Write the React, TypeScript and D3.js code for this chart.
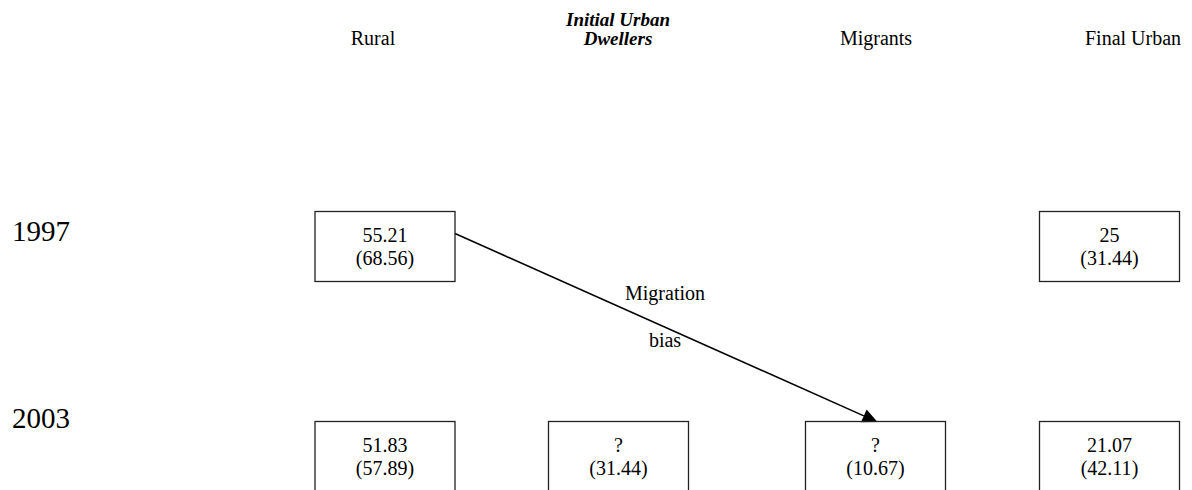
import React from "react";
import * as d3 from "d3";

const columns = ["Rural", "Initial Urban Dwellers", "Migrants", "Final Urban"];
const years = ["1997", "2003"];
const values1997 = ["55.21", null, null, "25"];
const shares1997 = ["68.56", null, null, "31.44"];
const values2003 = ["51.83", "?", "?", "21.07"];
const shares2003 = ["57.89", "31.44", "10.67", "42.11"];
const arrowLabel = ["Migration", "bias"];

const W = 1192;
const H = 490;
const FONT = "'Liberation Serif', 'Times New Roman', serif";

export default function App() {
  const boxX = d3.scaleOrdinal<string, number>().domain(columns).range([385, 618.5, 875.5, 1109.5]);
  const headX = d3.scaleOrdinal<string, number>().domain(columns).range([373, 618, 876, 1133]);
  const rowTop = d3.scaleOrdinal<string, number>().domain(years).range([211.5, 421.5]);
  const yearBase = d3.scaleOrdinal<string, number>().domain(years).range([241, 428]);
  const boxW = 140;
  const boxH = 70;

  const rows = [
    { year: "1997", vals: values1997, shares: shares1997 },
    { year: "2003", vals: values2003, shares: shares2003 },
  ];

  // arrow from Rural 1997 right-middle to Migrants 2003 top
  const x0 = boxX("Rural") + boxW / 2;
  const y0 = rowTop("1997") + 22;
  const x1 = 877.5;
  const y1 = rowTop("2003") + 0.5;
  const ang = Math.atan2(y1 - y0, x1 - x0);
  const L = 15, HW = 7;
  const ux = Math.cos(ang), uy = Math.sin(ang);
  const bx = x1 - L * ux, by = y1 - L * uy;
  const head = d3.line()([
    [x1, y1],
    [bx - HW * uy, by + HW * ux],
    [bx + HW * uy, by - HW * ux],
  ]) + "Z";

  return (
    <svg width={W} height={H} style={{ position: "absolute", left: 0, top: 0, background: "#fff" }} fontFamily={FONT}>
      {/* headers */}
      {columns.map((c) => {
        if (c === "Initial Urban Dwellers") {
          return (
            <g key={c}>
              <text x={headX(c)} y={25.5} textAnchor="middle" fontSize={19} fontWeight="bold" fontStyle="italic" fill="#000">Initial Urban</text>
              <text x={headX(c)} y={45} textAnchor="middle" fontSize={19} fontWeight="bold" fontStyle="italic" fill="#000">Dwellers</text>
            </g>
          );
        }
        return (
          <text key={c} x={headX(c)} y={45} textAnchor="middle" fontSize={20} fill="#000">{c}</text>
        );
      })}

      {/* year labels */}
      {years.map((y) => (
        <text key={y} x={12} y={yearBase(y)} fontSize={29} fill="#000">{y}</text>
      ))}

      {/* arrow */}
      <line x1={x0} y1={y0} x2={bx} y2={by} stroke="#000" strokeWidth={1.6} />
      <path d={head} fill="#000" />
      <text x={665} y={300} textAnchor="middle" fontSize={20} fill="#000">{arrowLabel[0]}</text>
      <text x={665} y={347} textAnchor="middle" fontSize={20} fill="#000">{arrowLabel[1]}</text>

      {/* boxes */}
      {rows.map((r) =>
        columns.map((c, i) => {
          if (r.vals[i] === null) return null;
          const cx = boxX(c);
          const top = rowTop(r.year);
          return (
            <g key={r.year + c}>
              <rect x={cx - boxW / 2} y={top} width={boxW} height={boxH} fill="none" stroke="#222" strokeWidth={1.3} />
              <text x={cx} y={top + 30} textAnchor="middle" fontSize={20} fill="#000">{r.vals[i]}</text>
              <text x={cx} y={top + 53} textAnchor="middle" fontSize={20} fill="#000">({r.shares[i]})</text>
            </g>
          );
        })
      )}
    </svg>
  );
}
